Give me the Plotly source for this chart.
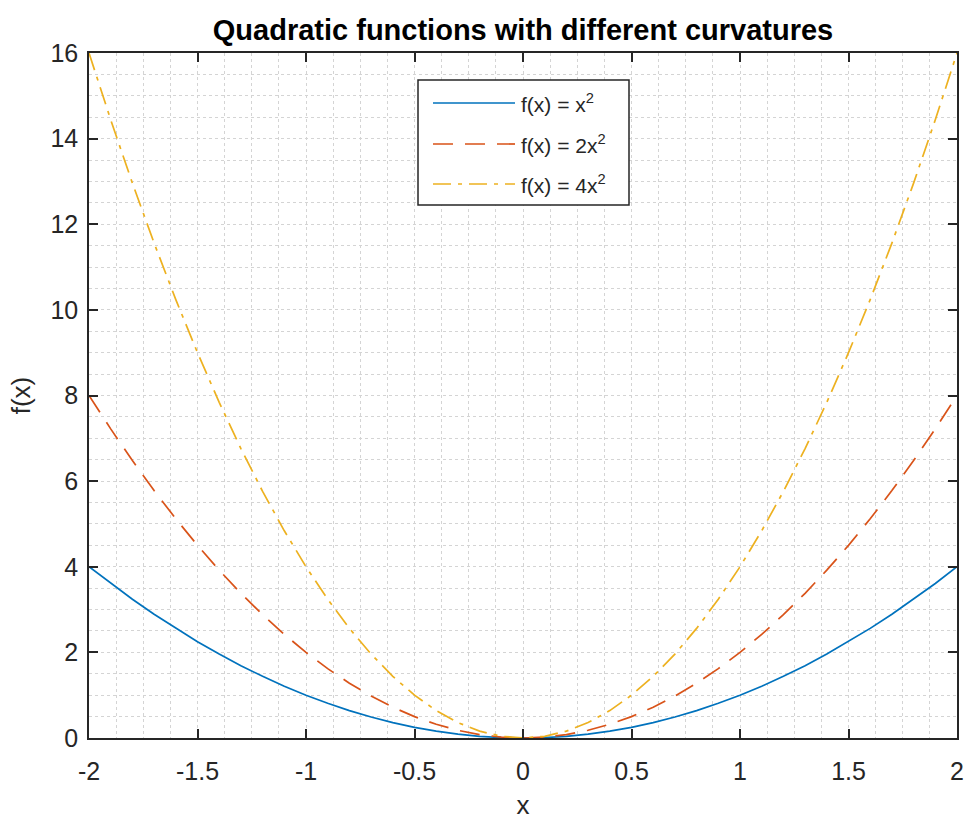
import plotly.graph_objects as go

# Data
x_vals = [-2.0, -1.9, -1.8, -1.7, -1.6, -1.5, -1.4, -1.3, -1.2, -1.1, -1.0,
          -0.9, -0.8, -0.7, -0.6, -0.5, -0.4, -0.3, -0.2, -0.1, 0.0,
          0.1, 0.2, 0.3, 0.4, 0.5, 0.6, 0.7, 0.8, 0.9, 1.0,
          1.1, 1.2, 1.3, 1.4, 1.5, 1.6, 1.7, 1.8, 1.9, 2.0]
y_x2 = [4.00, 3.61, 3.24, 2.89, 2.56, 2.25, 1.96, 1.69, 1.44, 1.21, 1.00,
        0.81, 0.64, 0.49, 0.36, 0.25, 0.16, 0.09, 0.04, 0.01, 0.00,
        0.01, 0.04, 0.09, 0.16, 0.25, 0.36, 0.49, 0.64, 0.81, 1.00,
        1.21, 1.44, 1.69, 1.96, 2.25, 2.56, 2.89, 3.24, 3.61, 4.00]
y_2x2 = [8.00, 7.22, 6.48, 5.78, 5.12, 4.50, 3.92, 3.38, 2.88, 2.42, 2.00,
         1.62, 1.28, 0.98, 0.72, 0.50, 0.32, 0.18, 0.08, 0.02, 0.00,
         0.02, 0.08, 0.18, 0.32, 0.50, 0.72, 0.98, 1.28, 1.62, 2.00,
         2.42, 2.88, 3.38, 3.92, 4.50, 5.12, 5.78, 6.48, 7.22, 8.00]
y_4x2 = [16.00, 14.44, 12.96, 11.56, 10.24, 9.00, 7.84, 6.76, 5.76, 4.84, 4.00,
         3.24, 2.56, 1.96, 1.44, 1.00, 0.64, 0.36, 0.16, 0.04, 0.00,
         0.04, 0.16, 0.36, 0.64, 1.00, 1.44, 1.96, 2.56, 3.24, 4.00,
         4.84, 5.76, 6.76, 7.84, 9.00, 10.24, 11.56, 12.96, 14.44, 16.00]
series_names = ["f(x) = x<sup>2</sup>", "f(x) = 2x<sup>2</sup>", "f(x) = 4x<sup>2</sup>"]

x_tick_vals = [-2, -1.5, -1, -0.5, 0, 0.5, 1, 1.5, 2]
x_tick_text = ["-2", "-1.5", "-1", "-0.5", "0", "0.5", "1", "1.5", "2"]
y_tick_vals = [0, 2, 4, 6, 8, 10, 12, 14, 16]
y_tick_text = ["0", "2", "4", "6", "8", "10", "12", "14", "16"]

colors = ["#0072BD", "#D95319", "#EDB120"]
dashes = ["solid", "20px,12px", "18px,7px,4px,7px"]

W, H = 967, 820
PL, PR, PT, PB = 89, 957, 53, 738  # plot area in pixels


def px_x(p):
    return (p - PL) / (PR - PL)


def px_y(p):
    return (PB - p) / (PB - PT)


fig = go.Figure()
for ys, name, c, d in zip([y_x2, y_2x2, y_4x2], series_names, colors, dashes):
    fig.add_trace(go.Scatter(x=x_vals, y=ys, mode="lines", name=name, showlegend=False,
                             line=dict(color=c, width=1.7, dash=d)))

font_family = "Liberation Sans, Arial, sans-serif"
axis_col = "#262626"
grid_col = "#d4d4d4"

common = dict(showline=True, linecolor=axis_col, linewidth=1.5, mirror="ticks",
              ticks="inside", ticklen=9, tickcolor=axis_col, tickwidth=1.5,
              tickfont=dict(family=font_family, size=25, color=axis_col),
              showgrid=True, gridcolor=grid_col, griddash="3px,3px", gridwidth=1,
              zeroline=False, automargin=False)

fig.update_xaxes(range=[-2, 2], tickvals=x_tick_vals, ticktext=x_tick_text,
                 ticklabelstandoff=10,
                 title=dict(text="x", font=dict(family=font_family, size=26, color=axis_col), standoff=25),
                 minor=dict(dtick=0.125, tick0=0, showgrid=True, gridcolor=grid_col,
                            griddash="3px,3px", ticks=""),
                 **common)
fig.update_yaxes(range=[0, 16], tickvals=y_tick_vals, ticktext=y_tick_text,
                 ticklabelstandoff=4,
                 title=dict(text="f(x)", font=dict(family=font_family, size=26, color=axis_col), standoff=12),
                 minor=dict(dtick=0.5, tick0=0, showgrid=True, gridcolor=grid_col,
                            griddash="3px,3px", ticks=""),
                 **common)

# Custom legend (box, line samples, labels) to match the long line samples
shapes = [dict(type="rect", xref="paper", yref="paper",
               x0=px_x(418), x1=px_x(629), y0=px_y(205), y1=px_y(80),
               line=dict(color=axis_col, width=1.5), fillcolor="white", layer="above")]
annotations = []
row_y = [103, 144, 184]
for name, c, d, ry in zip(series_names, colors, dashes, row_y):
    shapes.append(dict(type="line", xref="paper", yref="paper",
                       x0=px_x(433), x1=px_x(515), y0=px_y(ry), y1=px_y(ry),
                       line=dict(color=c, width=1.7, dash=d), layer="above"))
    annotations.append(dict(text=name, xref="paper", yref="paper", x=px_x(519), y=px_y(ry),
                            xanchor="left", yanchor="middle", showarrow=False,
                            font=dict(family=font_family, size=21, color=axis_col)))

fig.update_layout(
    width=W, height=H,
    margin=dict(l=PL, r=W - PR, t=PT, b=H - PB),
    plot_bgcolor="white", paper_bgcolor="white",
    title=dict(text="<b>Quadratic functions with different curvatures</b>",
               x=(PL + PR) / 2 / W, xanchor="center", y=1 - 30 / H, yanchor="middle",
               font=dict(family=font_family, size=29, color="black")),
    shapes=shapes,
    annotations=annotations,
    showlegend=False,
)

fig.write_html("out.html", config={"displayModeBar": False},
               post_script="document.body.style.margin='0px';document.body.style.padding='0px';")
